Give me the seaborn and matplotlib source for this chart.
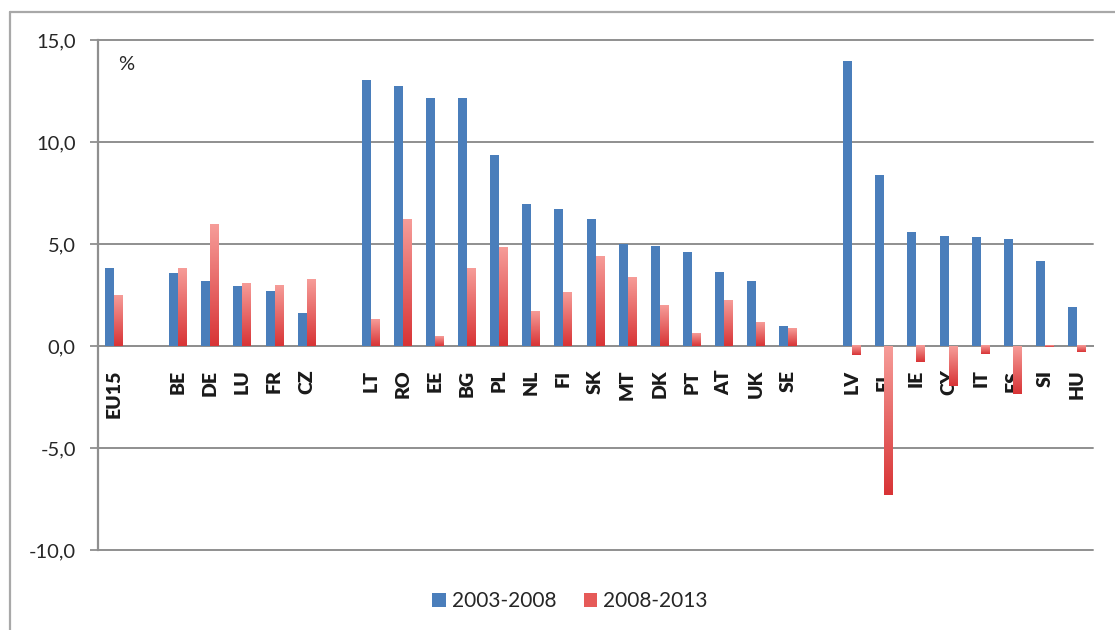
import numpy as np
import pandas as pd
import matplotlib
matplotlib.use("Agg")
import matplotlib.pyplot as plt
from matplotlib.lines import Line2D
from matplotlib.patches import Patch
from matplotlib.ticker import FixedLocator
import seaborn as sns

# Category slots (blank strings keep the gaps between country groups)
slots = ["EU15", "", "BE", "DE", "LU", "FR", "CZ", " ",
         "LT", "RO", "EE", "BG", "PL", "NL", "FI", "SK", "MT", "DK", "PT", "AT", "UK", "SE", "  ",
         "LV", "EL", "IE", "CY", "IT", "ES", "SI", "HU"]

countries = ["EU15", "BE", "DE", "LU", "FR", "CZ",
             "LT", "RO", "EE", "BG", "PL", "NL", "FI", "SK", "MT", "DK", "PT", "AT", "UK", "SE",
             "LV", "EL", "IE", "CY", "IT", "ES", "SI", "HU"]

growth_2003_2008 = [3.8, 3.6, 3.2, 2.95, 2.7, 1.6,
                    13.05, 12.75, 12.15, 12.15, 9.35, 6.95, 6.7, 6.25, 5.0, 4.9, 4.6, 3.65, 3.2, 1.0,
                    13.95, 8.4, 5.6, 5.4, 5.35, 5.25, 4.15, 1.9]

growth_2008_2013 = [2.5, 3.8, 5.95, 3.05, 2.95, 3.25,
                    1.3, 6.2, 0.45, 3.8, 4.85, 1.7, 2.6, 4.4, 3.35, 2.0, 0.6, 2.25, 1.15, 0.85,
                    -0.45, -7.3, -0.8, -1.95, -0.4, -2.35, -0.05, -0.3]

periods = ["2003-2008", "2008-2013"]
y_ticks = [-10, -5, 0, 5, 10, 15]
y_tick_labels = ["-10,0", "-5,0", "0,0", "5,0", "10,0", "15,0"]

BLUE = "#4A7EBB"
RED_MID = "#E65A58"
RED_TOP = np.array([246, 156, 152]) / 255
RED_BOTTOM = np.array([216, 52, 54]) / 255
GRAY = "#8F8F8F"

df = pd.DataFrame({
    "country": countries * 2,
    "value": growth_2003_2008 + growth_2008_2013,
    "period": [periods[0]] * len(countries) + [periods[1]] * len(countries),
})

sns.set_style("white")
plt.rcParams["font.family"] = ["Lato", "DejaVu Sans"]

fig = plt.figure(figsize=(11.15, 6.3), dpi=100)
ax = fig.add_axes([98 / 1115, 1 - 550 / 630, (1093 - 98) / 1115, 510 / 630])

sns.barplot(data=df, x="country", y="value", hue="period", order=slots,
            hue_order=periods, palette={periods[0]: BLUE, periods[1]: RED_MID},
            width=0.56, errorbar=None, linewidth=0, saturation=1, ax=ax, legend=False,
            zorder=3)

# Vertical light-to-dark shading on the 2008-2013 bars
n = 64
frac = np.linspace(0, 1, n)[:, None]  # 0 at bottom, 1 at top
shade = RED_BOTTOM + (RED_TOP - RED_BOTTOM) * frac
shade = np.repeat(shade[:, None, :], 2, axis=1)
for bar in ax.containers[1]:
    x0, y0 = bar.get_x(), bar.get_y()
    w, h = bar.get_width(), bar.get_height()
    yb, yt = min(y0, y0 + h), max(y0, y0 + h)
    ax.imshow(shade, extent=[x0, x0 + w, yb, yt], origin="lower",
              aspect="auto", interpolation="bilinear", zorder=3.5)
    bar.set_visible(False)

ax.set_xlim(-0.5, len(slots) - 0.5)
ax.set_ylim(-10, 15)

# Y axis
ax.set_yticks(y_ticks)
ax.set_yticklabels(y_tick_labels, fontsize=14.5, color="#262626")
ax.tick_params(axis="y", which="major", direction="out", length=6, width=1.3,
               color=GRAY, pad=10, left=True)
ax.yaxis.grid(True, color=GRAY, linewidth=1.4, zorder=0)
for gl in ax.get_ygridlines():
    gl.set_clip_on(False)
ax.set_axisbelow(True)

# X axis through zero
ax.spines["bottom"].set_position(("data", 0))
ax.spines["bottom"].set_color(GRAY)
ax.spines["bottom"].set_linewidth(1.4)
ax.spines["bottom"].set_zorder(2.5)
ax.spines["left"].set_color(GRAY)
ax.spines["left"].set_linewidth(1.6)
ax.spines["top"].set_visible(False)
ax.spines["right"].set_visible(False)

ax.set_xticks(range(len(slots)))
ax.set_xticklabels(slots, rotation=90, fontsize=14, fontweight="heavy", color="#1a1a1a")
ax.tick_params(axis="x", which="major", length=0, pad=17)
ax.xaxis.set_minor_locator(FixedLocator(np.arange(0.5, len(slots) - 0.5, 1)))
ax.tick_params(axis="x", which="minor", direction="out", length=5, width=1.2, color=GRAY)
ax.set_xlabel("")
ax.set_ylabel("")

ax.text(0.028, 0.952, "%", transform=ax.transAxes, fontsize=14.5, color="#262626",
        va="center", ha="center")

# Legend below the plot
handles = [Patch(facecolor=BLUE, edgecolor="none"), Patch(facecolor=RED_MID, edgecolor="none")]
fig.legend(handles, periods, loc="center", bbox_to_anchor=(570 / 1115, 1 - 601 / 630),
           ncol=2, frameon=False, fontsize=15, handlelength=0.65, handleheight=0.65,
           handletextpad=0.3, columnspacing=1.3)

# Outer chart frame
fig.add_artist(Line2D([10 / 1115, 1.0], [1 - 12 / 630] * 2, color="#A8A8A8", lw=1.6,
                      transform=fig.transFigure))
fig.add_artist(Line2D([10 / 1115] * 2, [0.0, 1 - 12 / 630], color="#A8A8A8", lw=1.6,
                      transform=fig.transFigure))

fig.savefig("out.png", dpi=100, facecolor="white")
